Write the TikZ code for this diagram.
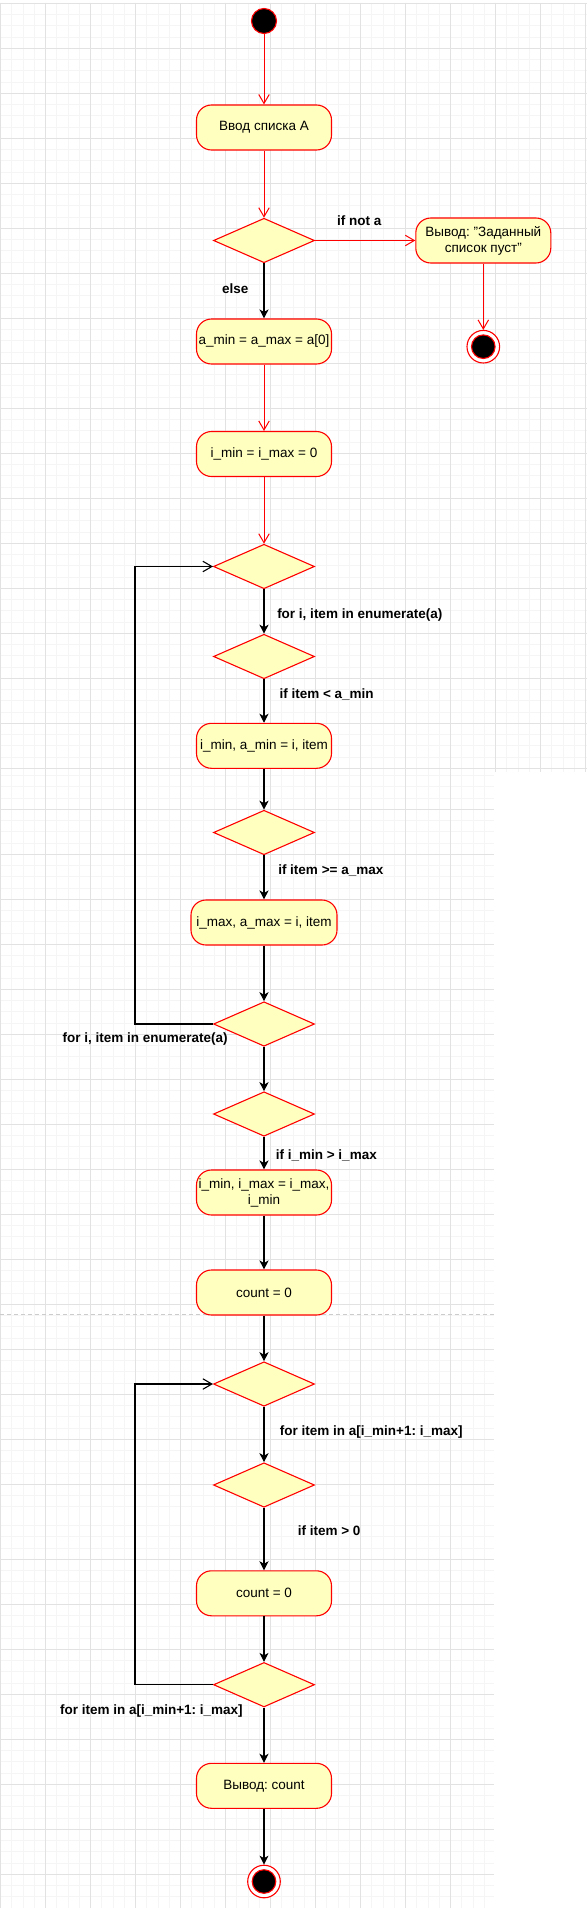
\documentclass[tikz,border=0pt]{standalone}
\usepackage{fontspec}
\setmainfont{Liberation Sans}
\frenchspacing
\usetikzlibrary{arrows.meta, shapes.geometric}
\definecolor{actred}{RGB}{255, 0, 0}
\definecolor{actfill}{RGB}{255, 255, 192}
\definecolor{gridmaj}{RGB}{226, 226, 226}
\definecolor{gridmin}{RGB}{245, 245, 245}

\begin{document}
\begin{tikzpicture}[x=1pt, y=-1pt, font=\fontsize{13.5}{16}\selectfont,
    action/.style={
        draw=actred, line width=1.1pt, fill=actfill, rounded corners=15pt,
        minimum width=135pt, minimum height=45pt, inner sep=1pt, align=center
    },
    decision/.style={
        draw=actred, line width=1.1pt, fill=actfill, diamond,
        minimum width=101pt, minimum height=44.5pt, inner sep=0pt
    },
    initial/.style={circle, draw=actred, line width=1.1pt, fill=black,
        minimum size=25pt, inner sep=0pt},
    final/.style={circle, draw=actred, line width=1.1pt, fill=white,
        minimum size=32.6pt, inner sep=0pt},
    redflow/.style={-{Straight Barb[length=9pt, width=10.5pt]}, line width=1pt, actred},
    flow/.style={-{Stealth[length=9pt, width=9pt, inset=2.5pt]}, line width=1.1pt, black},
    backflow/.style={-{Straight Barb[length=9pt, width=10.5pt]}, line width=1.1pt, black},
    tlab/.style={font=\fontsize{13.5}{16}\selectfont\bfseries, inner sep=0pt, text=black},
    gridmajor/.style={gridmaj, line width=0.8pt},
    gridminor/.style={gridmin, line width=0.8pt},
    pagebreak/.style={draw=black!20, line width=1pt, dash pattern=on 4pt off 3pt},
]

\useasboundingbox (0,0) rectangle (587,1908);
\fill[white] (0,0) rectangle (587,1908);

% ================= canvas grid =================
\foreach \ya/\yb/\yo/\xr in {2.8/772/3.3/587, 772/1515/44.3/494, 1515/1908/29.3/494}{
    \begin{scope}
        \clip (0,\ya) rectangle (\xr,\yb);
        \foreach \k in {0,...,52}
            \draw[gridminor] ({0.5+11.25*\k},\ya) -- ({0.5+11.25*\k},\yb);
        \foreach \k in {-1,...,170}
            \draw[gridminor] (0,{\yo+11.25*\k}) -- (\xr,{\yo+11.25*\k});
        \foreach \k in {0,...,13}
            \draw[gridmajor] ({0.5+45*\k},\ya) -- ({0.5+45*\k},\yb);
        \foreach \k in {-1,...,43}
            \draw[gridmajor] (0,{\yo+45*\k}) -- (\xr,{\yo+45*\k});
    \end{scope}
}
\draw[pagebreak] (0,1314.3) -- (494,1314.3);

% ================= nodes =================
\node[initial] (start) at (264,21) {};
\node[action] (input) at (264,127.5) {Ввод списка А};
\node[decision] (empty) at (264,240.5) {};
\node[action] (msg) at (483.3,240.5) {Вывод: "Заданный\\список пуст"};
\node[final] (stop1) at (483.3,346.7) {};
\node[action] (initA) at (264,341.5) {a\_min = a\_max = a[0]};
\node[action] (initI) at (264,454) {i\_min = i\_max = 0};
\node[decision] (forA) at (264,566.5) {};
\node[decision] (ifMin) at (264,656.5) {};
\node[action] (setMin) at (264,745.8) {i\_min, a\_min = i, item};
\node[decision] (ifMax) at (264,832.5) {};
\node[action, minimum width=146pt] (setMax) at (264,922.5) {i\_max, a\_max = i, item};
\node[decision] (endA) at (264,1024) {};
\node[decision] (ifSwap) at (264,1114) {};
\node[action] (swap) at (264,1192.5) {i\_min, i\_max = i\_max,\\i\_min};
\node[action] (count0) at (264,1292.5) {count = 0};
\node[decision] (forB) at (264,1384) {};
\node[decision] (ifPos) at (264,1485) {};
\node[action] (countB) at (264,1593.3) {count = 0};
\node[decision] (endB) at (264,1684.7) {};
\node[action] (print) at (264,1785.8) {Вывод: count};
\node[final] (stop2) at (264,1881.5) {};
\foreach \s in {stop1,stop2}{ \fill[black, draw=actred, line width=1.1pt] (\s) circle (11.8pt); }

% ================= flows =================
\draw[redflow] (start) -- (input);
\draw[redflow] (input) -- (empty);
\draw[redflow] (empty) -- (msg) node[tlab, above=14.5pt, pos=0.44] (lNot) {if not a};
\draw[redflow] (msg) -- (stop1);
\draw[flow] (empty) -- (initA) node[tlab, left=15pt, pos=0.46] (lElse) {else};
\draw[redflow] (initA) -- (initI);
\draw[redflow] (initI) -- (forA);

% first loop
\draw[flow] (forA) -- (ifMin) node[tlab, right=12.7pt, pos=0.58] (lForA) {for i, item in enumerate(a)};
\draw[flow] (ifMin) -- (setMin) node[tlab, right=15pt, pos=0.35] (lMin) {if item < a\_min};
\draw[flow] (setMin) -- (ifMax);
\draw[flow] (ifMax) -- (setMax) node[tlab, right=13.7pt, pos=0.34] (lMax) {if item >= a\_max};
\draw[flow] (setMax) -- (endA);
\coordinate (backA) at (135,1024);
\draw[backflow] (endA.west) -- (backA)
    node[tlab, below=8pt, pos=0.87] (lForA2) {for i, item in enumerate(a)} |- (forA.west);

\draw[flow] (endA) -- (ifSwap);
\draw[flow] (ifSwap) -- (swap) node[tlab, right=11.3pt, pos=0.56] (lSwap) {if i\_min > i\_max};
\draw[flow] (swap) -- (count0);
\draw[flow] (count0) -- (forB);

% second loop
\draw[flow] (forB) -- (ifPos) node[tlab, right=15.3pt, pos=0.46] (lForB) {for item in a[i\_min+1: i\_max]};
\draw[flow] (ifPos) -- (countB) node[tlab, right=33.3pt, pos=0.36] (lPos) {if item > 0};
\draw[flow] (countB) -- (endB);
\coordinate (backB) at (135,1684.7);
\draw[backflow] (endB.west) -- (backB)
    node[tlab, below=19pt, pos=0.79] (lForB2) {for item in a[i\_min+1: i\_max]} |- (forB.west);

\draw[flow] (endB) -- (print);
\draw[flow] (print) -- (stop2);

\end{tikzpicture}
\end{document}
